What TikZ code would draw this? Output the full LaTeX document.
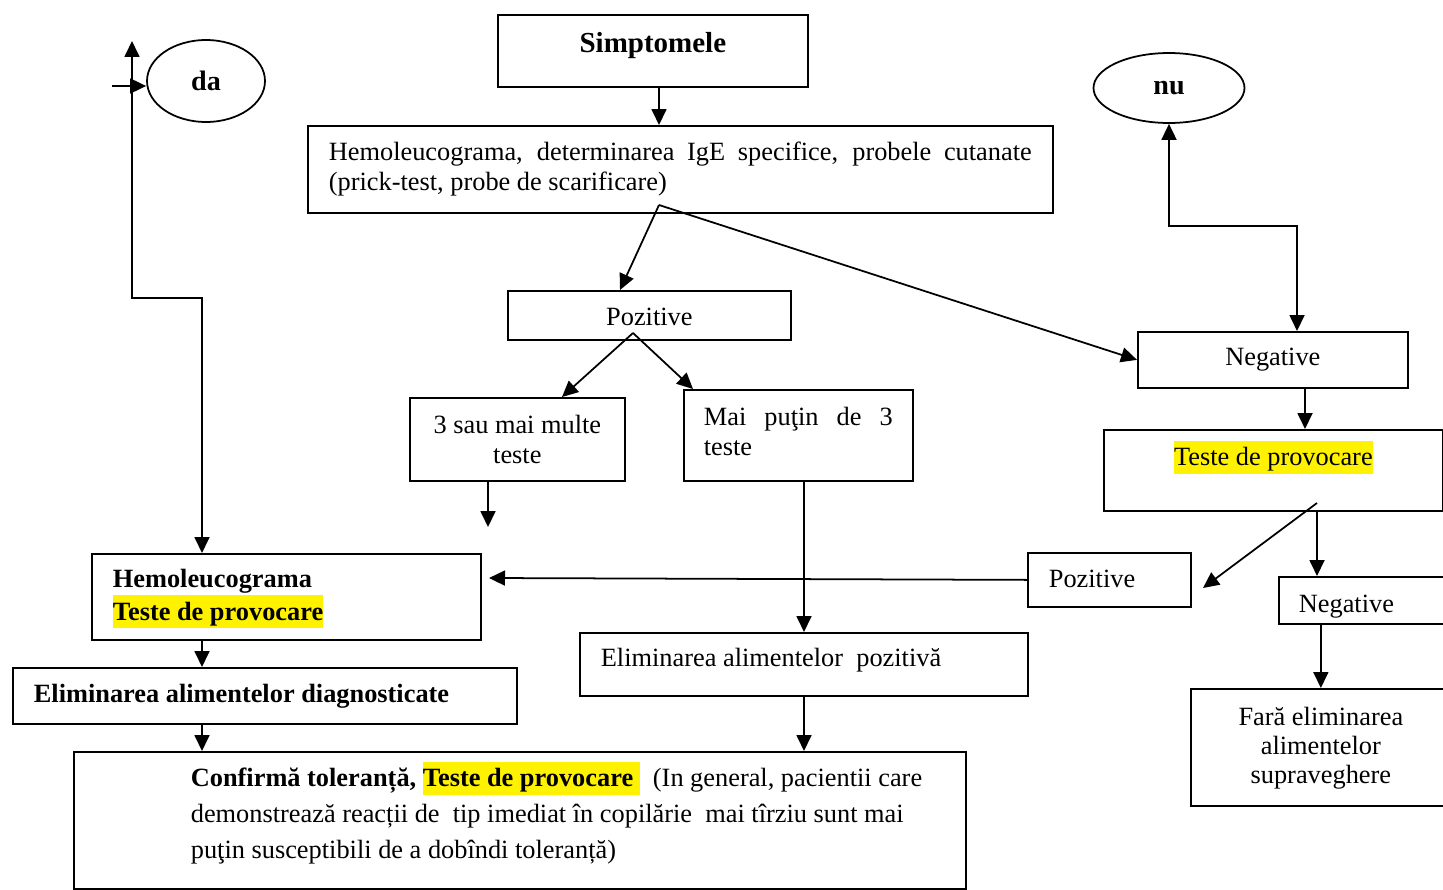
\documentclass[tikz,border=0pt]{standalone}
\usepackage{fontspec}
\setmainfont{Liberation Serif}
\usetikzlibrary{shapes.geometric,arrows.meta,calc}
\newcommand\hlite[1]{{\setlength{\fboxsep}{0pt}\colorbox{yellow}{\rule[-4.5pt]{0pt}{18.5pt}#1}}}

\begin{document}
\begin{tikzpicture}[x=0.02cm,y=-0.02cm,
  box/.style={draw, line width=1pt, anchor=north west, inner ysep=0pt, inner xsep=0pt, font=\fontsize{15}{17}\selectfont},
  oval/.style={draw, ellipse, line width=1pt, inner sep=0pt, font=\fontsize{16}{19}\selectfont\bfseries},
  arr/.style={line width=1pt, -{Triangle[length=0.32cm,width=0.3cm]}},
  dbl/.style={line width=1pt, {Triangle[length=0.32cm,width=0.3cm]}-{Triangle[length=0.32cm,width=0.3cm]}}]
\useasboundingbox (0,0) rectangle (1443,889);
\clip (0,0) rectangle (1443,889);

% top part
\node[box, text width=6.2cm, align=flush center, text height=0.76cm, text depth=0.68cm, font=\fontsize{16.5}{19}\selectfont\bfseries] (simpt) at (497,14) {Simptomele};
\node[box, inner xsep=0.42cm, text width=14.06cm, align=justify, text height=0.7cm, text depth=1.04cm] (hemo) at (307,125)
  {Hemoleucograma, determinarea IgE specifice, probele cutanate\linebreak (prick-test, probe de scarificare)};
\node[box, text width=5.66cm, align=flush center, text height=0.7cm, text depth=0.28cm] (pos) at (507,290) {Pozitive};
\node[box, text width=4.3cm, align=flush center, text height=0.72cm, text depth=0.94cm] (sau3) at (409,397) {3 sau mai multe\\ teste};
\node[box, inner xsep=0.4cm, text width=3.78cm, align=justify, text height=0.72cm, text depth=1.1cm] (mai) at (683,389) {Mai puţin de 3\linebreak teste};

% right part
\node[oval, minimum width=3.02cm, minimum height=1.4cm] (nu) at (1169,88) {nu};
\node[box, text width=5.4cm, align=flush center, text height=0.68cm, text depth=0.44cm] (neg1) at (1137,331) {Negative};
\node[box, text width=6.78cm, align=flush center, text height=0.72cm, text depth=0.9cm] (teste) at (1103,429) {\hlite{Teste de provocare}};
\node[box, inner xsep=0.42cm, text width=2.42cm, align=flush left, text height=0.7cm, text depth=0.38cm] (posR) at (1027,552) {Pozitive};
\node[box, inner xsep=0.4cm, text width=4cm, align=flush left, text height=0.72cm, text depth=0.22cm] (neg2) at (1278,576) {Negative};
\node[box, text width=5.2cm, align=flush center, text height=0.74cm, text depth=1.6cm, font=\fontsize{15}{16.4}\selectfont] (fara) at (1190,688)
  {Fară eliminarea\\ alimentelor\\ supraveghere};

% left and bottom part
\node[oval, minimum width=2.36cm, minimum height=1.64cm] (da) at (206,81) {da};
\node[box, inner xsep=0.42cm, text width=6.94cm, align=flush left, text height=0.68cm, text depth=1.04cm, font=\fontsize{15}{16.4}\selectfont\bfseries] (hemoB) at (91,553)
  {Hemoleucograma\\ \hlite{Teste de provocare}};
\node[box, inner xsep=0.42cm, text width=9.24cm, align=flush left, text height=0.7cm, text depth=0.42cm, font=\fontsize{15}{17}\selectfont\bfseries] (elimD) at (12,667)
  {Eliminarea alimentelor diagnosticate};
\node[box, inner xsep=0.42cm, text width=8.12cm, align=flush left, text height=0.68cm, text depth=0.58cm] (elimP) at (579,632)
  {Eliminarea alimentelor~ pozitivă};
\node[box, text height=0.7cm, text depth=2.04cm] (conf) at (73,751)
  {\hspace*{2.34cm}\parbox[t]{15.5cm}{\raggedright\fontsize{15}{20.4}\selectfont
  \textbf{Confirmă toleranță, \hlite{Teste de provocare\ }}~ (In general, pacientii care\\
  demonstrează reacții de~ tip imediat în copilărie~ mai tîrziu sunt mai\\
  puţin susceptibili de a dobîndi toleranță)}};

% points for the connectors
\coordinate (hFork) at (659,205);
\coordinate (pFork) at (633,333);
\coordinate (tFork) at (1317,503);
\coordinate (colL) at (202,0);
\coordinate (colM) at (804,0);
\coordinate (colR) at (1305,0);
\coordinate (nuX) at (1297,226);
\coordinate (daTop) at (132,41);
\coordinate (daBend) at (132,298);
\coordinate (daIn) at (112,86);
\coordinate (sauEnd) at (488,527);
\coordinate (posEnd) at (489,578);
\coordinate (tEnd) at (1203,588);

% connectors
\draw[arr] (simpt.south -| hFork) -- (hemo.north -| hFork);
\draw[arr] (hFork) -- ($(pos.north west)+(113,0)$);
\draw[arr] (hFork) -- (neg1.west);
\draw[arr] (pFork) -- ($(sau3.north west)+(153,0)$);
\draw[arr] (pFork) -- ($(mai.north west)+(10,0)$);
\draw[arr] (sau3.south -| sauEnd) -- (sauEnd);
\draw[arr] (mai.south -| colM) -- (elimP.north -| colM);
\draw[arr] (elimP.south -| colM) -- (conf.north -| colM);
\draw[arr] (hemoB.south -| colL) -- (elimD.north -| colL);
\draw[arr] (elimD.south -| colL) -- (conf.north -| colL);
\draw[arr] (posR.west) -- (posEnd);
\draw[arr] (neg1.south -| colR) -- (teste.north -| colR);
\draw[arr] (tFork) -- (tEnd);
\draw[arr] (teste.south -| tFork) -- (neg2.north -| tFork);
\draw[arr] (neg2.south -| fara.north) -- (fara.north);
\draw[dbl] (nu.south) |- (nuX) -- (neg1.north -| nuX);
\draw[dbl] (daTop) -- (daBend) -| (hemoB.north -| colL);
\draw[arr] (daIn) -- (daIn -| da.west);
\end{tikzpicture}
\end{document}
